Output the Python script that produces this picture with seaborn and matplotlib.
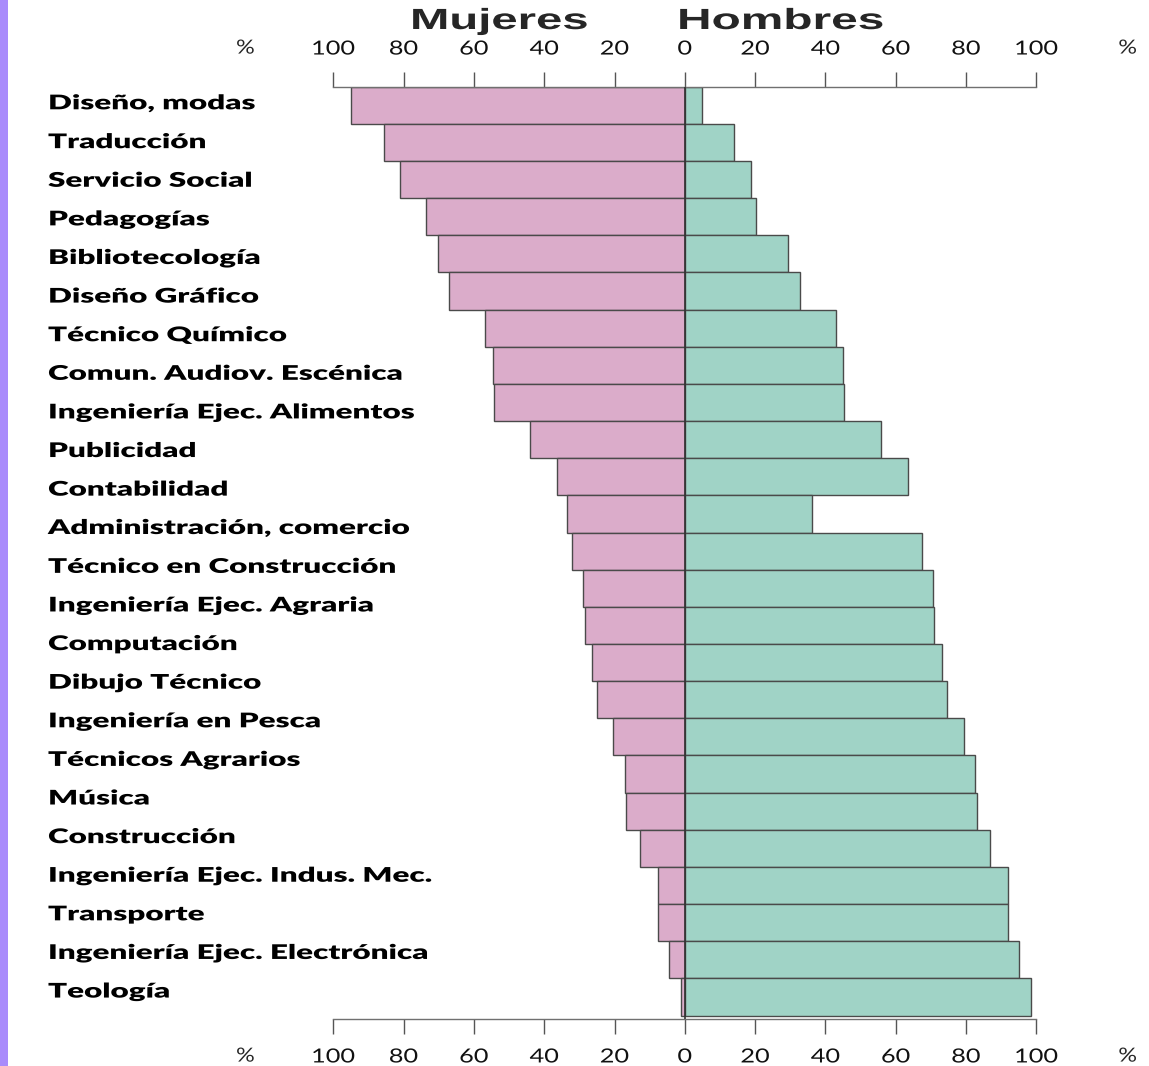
import numpy as np
import pandas as pd
import matplotlib
matplotlib.use("Agg")
import matplotlib.pyplot as plt
import matplotlib.transforms as mtransforms
from matplotlib.patches import Rectangle
from matplotlib.patheffects import AbstractPathEffect
import seaborn as sns

# ---------------- data ----------------
carreras = [
    "Diseño, modas", "Traducción", "Servicio Social", "Pedagogías",
    "Bibliotecología", "Diseño Gráfico", "Técnico Químico",
    "Comun. Audiov. Escénica", "Ingeniería Ejec. Alimentos", "Publicidad",
    "Contabilidad", "Administración, comercio", "Técnico en Construcción",
    "Ingeniería Ejec. Agraria", "Computación", "Dibujo Técnico",
    "Ingeniería en Pesca", "Técnicos Agrarios", "Música", "Construcción",
    "Ingeniería Ejec. Indus. Mec.", "Transporte",
    "Ingeniería Ejec. Electrónica", "Teología",
]
# 25 bars are drawn in the source (one more bar than labels)
mujeres = [95.0, 85.6, 81.0, 73.5, 70.2, 67.0, 56.9, 54.7, 54.4, 43.9,
           36.3, 33.4, 32.1, 28.9, 28.5, 26.5, 25.1, 20.4, 17.0, 16.6,
           12.8, 7.7, 7.7, 4.4, 1.1]
hombres = [4.8, 14.1, 18.8, 20.3, 29.5, 32.7, 42.9, 45.0, 45.3, 55.9,
           63.5, 36.2, 67.6, 70.7, 71.0, 73.1, 74.6, 79.4, 82.6, 83.0,
           86.9, 91.9, 92.0, 95.2, 98.4]
ticks = [-100, -80, -60, -40, -20, 0, 20, 40, 60, 80, 100]
tick_labels = ["100", "80", "60", "40", "20", "0", "20", "40", "60", "80", "100"]

PINK = "#DBACCA"
TEAL = "#A0D3C6"
EDGE = "#4a4a4a"


class StretchX(AbstractPathEffect):
    """Horizontally stretch text glyphs around their left edge or centre."""
    def __init__(self, sx, anchor="left"):
        super().__init__()
        self.sx = sx
        self.anchor = anchor

    def draw_path(self, renderer, gc, tpath, affine, rgbFace=None):
        if self.anchor == "center":
            ext = tpath.get_extents(affine)
            x0 = 0.5 * (ext.x0 + ext.x1)
        else:
            x0 = affine.get_matrix()[0, 2]
        new = affine + mtransforms.Affine2D().translate(-x0, 0).scale(self.sx, 1).translate(x0, 0)
        renderer.draw_path(gc, tpath, new, rgbFace)


sns.set_theme(style="white")
plt.rcParams["font.family"] = ["Lato", "DejaVu Sans"]

W, H = 1149, 1066
fig = plt.figure(figsize=(W / 100, H / 100), dpi=100)
fig.patch.set_facecolor("white")

ax_left, ax_right = 333.3, 1036.3
ax_top, ax_bot = 86.7, 1019.3
ax = fig.add_axes([ax_left / W, 1 - ax_bot / H, (ax_right - ax_left) / W, (ax_bot - ax_top) / H])

n = len(mujeres)
rows = [f"r{i}" for i in range(n)]
df = pd.DataFrame({"row": rows, "m": [-v for v in mujeres], "h": hombres})

sns.barplot(data=df, y="row", x="m", orient="h", color=PINK, saturation=1,
            width=1.0, edgecolor=EDGE, linewidth=1.0, ax=ax, order=rows)
sns.barplot(data=df, y="row", x="h", orient="h", color=TEAL, saturation=1,
            width=1.0, edgecolor=EDGE, linewidth=1.0, ax=ax, order=rows)

ax.axvline(0, color="#333333", lw=1.2, zorder=5)

ax.set_xlim(-100, 100)
ax.set_ylim(n - 0.4, -0.5)
ax.set_xlabel("")
ax.set_ylabel("")
ax.set_yticks([])
for s in ["left", "right"]:
    ax.spines[s].set_visible(False)
for s in ["top", "bottom"]:
    ax.spines[s].set_visible(True)
    ax.spines[s].set_color("#707070")
    ax.spines[s].set_linewidth(1.0)

ax.set_xticks(ticks)
ax.set_xticklabels(tick_labels)
ax.tick_params(axis="x", top=True, bottom=True, labeltop=True, labelbottom=True,
               direction="out", length=11, width=1.0, color="#555555",
               labelsize=14, pad=10, labelcolor="#111111")
for t in ax.get_xticklabels(which="both"):
    t.set_path_effects([StretchX(1.3, "center")])
ax.grid(False)

# percent signs
for xx in (-125, 126):
    for yy in (-1.54, n + 0.59):
        ax.text(xx, yy, "%", ha="center", va="center", fontsize=14,
                clip_on=False, path_effects=[StretchX(1.2, "center")])

# category labels (separately spaced in the source)
lab_pos = np.linspace(-0.06, 23.84, len(carreras))
tr = mtransforms.blended_transform_factory(fig.transFigure, ax.transData)
for yy, lab in zip(lab_pos, carreras):
    ax.text(48 / W, yy, lab, transform=tr, ha="left", va="center",
            fontsize=14.5, fontweight="heavy", color="#000000", clip_on=False,
            path_effects=[StretchX(1.56)])

# titles
fig.text(410 / W, 1 - 21 / H, "Mujeres", ha="left", va="center", fontsize=21,
         fontweight="bold", family=["Liberation Sans", "DejaVu Sans"],
         path_effects=[StretchX(1.62)])
fig.text(677 / W, 1 - 21 / H, "Hombres", ha="left", va="center", fontsize=21,
         fontweight="bold", family=["Liberation Sans", "DejaVu Sans"],
         path_effects=[StretchX(1.64)])

# purple strip at the left edge
fig.patches.append(Rectangle((0, 0), 8 / W, 1, transform=fig.transFigure,
                             facecolor="#A98BFB", edgecolor="none"))

fig.savefig("out.png", dpi=100)
